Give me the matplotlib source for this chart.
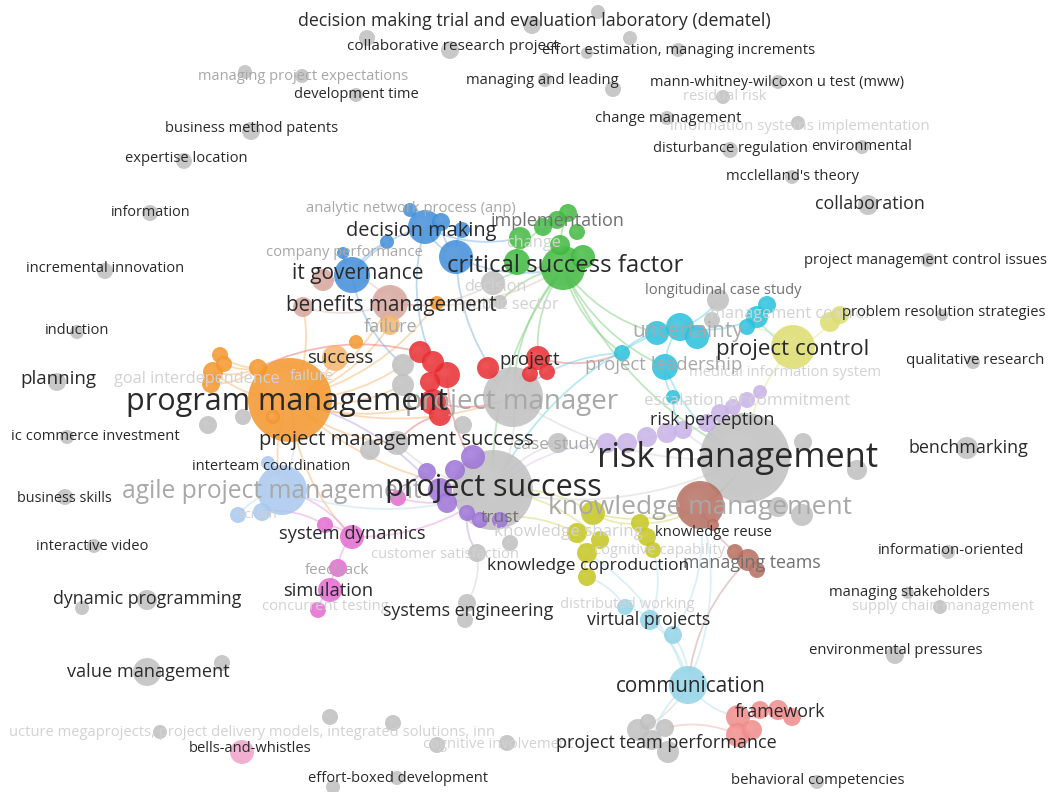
import matplotlib
matplotlib.use("Agg")
import matplotlib.pyplot as plt
from matplotlib.patches import Circle, PathPatch
from matplotlib.path import Path
from matplotlib.colors import to_rgb

# ---------------- data ----------------
cluster_colors = {
    "gray": "#bdbdbd", "orange": "#f39325", "lorange": "#f4b46a", "peach": "#d6a399",
    "blue": "#3a8ad8", "green": "#3cb83c", "red": "#e8262b", "cyan": "#22bfdc",
    "yellow": "#dcdc6a", "lav": "#c6b0e6", "purple": "#9a6ed6", "olive": "#c4c41a",
    "magenta": "#e466d0", "lblue": "#a6c6ee", "brown": "#b4695a", "sky": "#8ed2e6",
    "salmon": "#f08888", "pink": "#f0a0c8",
}

node_key = [
    # gray
    "g_dem1", "g_dem2", "g_eff1", "g_eff2", "g_eff3", "g_col1", "g_col2", "g_mpe1", "g_mpe2", "g_dev",
    "g_mal1", "g_mal2", "g_mww", "g_res", "g_chm", "g_isi", "g_dis", "g_env", "g_mcc", "g_colb",
    "g_bmp", "g_exp", "g_inf", "g_inc", "g_ind", "g_pla", "g_eci", "g_bsk", "g_iv", "g_dp1",
    "g_dp2", "g_vm1", "g_vm2", "g_b1", "g_b2", "g_b3", "g_b4", "g_b5", "g_b6", "g_b7",
    "g_envp", "g_ms1", "g_ms2", "g_io", "g_bc", "g_tp1", "g_tp2", "g_tp3", "g_tp4", "g_tp5",
    "g_pmci", "g_prs", "g_qr", "g_ben", "g_lcs1", "g_lcs2", "g_rm", "g_rm2", "g_rm3", "g_rm4",
    "g_rm5", "g_cs", "g_ps", "g_ps2", "g_ps3", "g_se1", "g_se2", "g_pmgr", "g_r1", "g_r2",
    "g_pms1", "g_pms2", "g_pm3", "g_dec1", "g_dec2", "g_pg1", "g_pg2",
    # orange / light orange / peach
    "o_pm", "o_s1", "o_s2", "o_l1", "o_l2", "o_l3", "o_l4", "o_f1", "o_f2",
    "lo_suc", "lo_fail",
    "pe_bm", "pe_2", "pe_3",
    # blue
    "b_1", "b_dm", "b_3", "b_4", "b_5", "b_6", "b_7", "b_itg",
    # green
    "gr_1", "gr_2", "gr_3", "gr_4", "gr_5", "gr_6", "gr_7", "gr_csf", "gr_9",
    # red
    "r_1", "r_2", "r_3", "r_4", "r_5", "r_6", "r_7", "r_pr", "r_9", "r_10",
    # cyan
    "c_1", "c_unc", "c_3", "c_4", "c_5", "c_6", "c_7", "c_pl", "c_9",
    # yellow
    "y_pc", "y_2", "y_3",
    # lavender
    "l_1", "l_2", "l_3", "l_4", "l_5", "l_6", "l_7", "l_8", "l_9", "l_10",
    # purple
    "p_1", "p_2", "p_3", "p_4", "p_5", "p_6", "p_7", "p_8",
    # olive
    "ol_1", "ol_2", "ol_3", "ol_4", "ol_5", "ol_6", "ol_7", "ol_8",
    # magenta
    "m_1", "m_sd", "m_3", "m_4", "m_sim", "m_6",
    # light blue
    "lb_ag", "lb_2", "lb_3", "lb_4",
    # brown
    "br_km", "br_2", "br_mt", "br_4", "br_5",
    # sky
    "s_com", "s_vp", "s_3", "s_4",
    # salmon
    "sa_1", "sa_2", "sa_3", "sa_4", "sa_5", "sa_6",
    # pink
    "pk_bw",
]

node_x = [
    532, 598, 630, 587, 678, 367, 450, 245, 302, 356,
    545, 613, 778, 723, 667, 798, 730, 862, 792, 868,
    251, 184, 150, 105, 77, 57, 67, 65, 94, 82,
    147, 147, 222, 330, 393, 160, 437, 507, 397, 333,
    895, 908, 940, 948, 817, 638, 665, 668, 652, 648,
    928, 942, 973, 967, 718, 712, 745, 803, 857, 802,
    778, 558, 493, 477, 510, 467, 465, 513, 403, 403,
    397, 370, 463, 493, 500, 208, 243,
    290, 258, 273, 220, 224, 213, 211, 356, 437,
    335, 390,
    390, 323, 303,
    410, 425, 441, 387, 343, 462, 456, 352,
    568, 557, 543, 577, 520, 560, 517, 563, 583,
    420, 433, 447, 430, 433, 440, 488, 538, 530, 547,
    657, 680, 697, 757, 767, 747, 622, 665, 673,
    793, 830, 840,
    607, 627, 647, 667, 683, 707, 720, 733, 747, 760,
    427, 440, 447, 473, 467, 480, 500, 455,
    577, 593, 587, 587, 640, 647, 653, 600,
    325, 352, 398, 338, 330, 318,
    282, 238, 268, 262,
    700, 713, 748, 757, 735,
    688, 650, 673, 625,
    738, 752, 738, 778, 792, 760,
    242,
]

node_y = [
    25, 12, 38, 53, 50, 38, 50, 72, 76, 95,
    80, 89, 82, 97, 118, 123, 150, 147, 177, 205,
    131, 161, 213, 271, 332, 382, 437, 497, 546, 608,
    600, 672, 663, 717, 723, 732, 745, 743, 778, 787,
    655, 593, 607, 552, 782, 730, 728, 752, 740, 722,
    260, 315, 362, 448, 300, 320, 458, 442, 470, 515,
    507, 443, 490, 553, 543, 603, 620, 397, 365, 385,
    443, 450, 425, 283, 302, 425, 417,
    400, 368, 417, 355, 364, 372, 384, 342, 303,
    358, 325,
    303, 280, 307,
    210, 227, 222, 242, 253, 230, 257, 275,
    213, 220, 227, 232, 238, 245, 262, 268, 257,
    352, 362, 375, 382, 402, 415, 368, 358, 374, 372,
    333, 327, 337, 317, 305, 327, 353, 367, 397,
    347, 322, 315,
    443, 443, 437, 433, 430, 423, 413, 407, 400, 392,
    472, 490, 503, 457, 513, 520, 520, 470,
    533, 513, 553, 577, 523, 537, 550, 540,
    525, 537, 498, 568, 590, 610,
    490, 515, 463, 512,
    505, 525, 560, 570, 552,
    685, 620, 635, 607,
    717, 730, 735, 710, 717, 710,
    752,
]

node_r = [
    9, 7, 7, 6, 7, 8, 9, 7, 7, 7,
    7, 8, 7, 7, 7, 7, 8, 7, 7, 10,
    9, 8, 8, 8, 7, 9, 7, 8, 7, 7,
    10, 14, 8, 8, 8, 7, 8, 8, 7, 7,
    9, 6, 7, 7, 7, 11, 9, 11, 10, 8,
    7, 6, 7, 11, 11, 8, 45, 9, 10, 11,
    10, 10, 40, 9, 8, 9, 8, 30, 11, 11,
    12, 10, 9, 12, 7, 9, 8,
    42, 9, 7, 8, 8, 10, 9, 7, 7,
    13, 10,
    18, 11, 10,
    7, 17, 9, 7, 6, 8, 17, 18,
    9, 9, 9, 8, 11, 10, 13, 22, 12,
    11, 11, 13, 10, 13, 11, 11, 12, 8, 8,
    12, 14, 12, 11, 9, 8, 8, 13, 7,
    22, 10, 9,
    10, 10, 10, 10, 9, 9, 9, 8, 8, 7,
    9, 12, 10, 12, 8, 8, 8, 10,
    10, 12, 10, 9, 9, 9, 8, 9,
    8, 12, 8, 9, 12, 8,
    25, 8, 7, 9,
    24, 6, 11, 8, 8,
    19, 10, 9, 8,
    12, 10, 12, 10, 9, 9,
    12,
]

node_cluster = (
    ["gray"] * 77
    + ["orange"] * 9 + ["lorange"] * 2 + ["peach"] * 3
    + ["blue"] * 8 + ["green"] * 9 + ["red"] * 10 + ["cyan"] * 9
    + ["yellow"] * 3 + ["lav"] * 10 + ["purple"] * 8 + ["olive"] * 8
    + ["magenta"] * 6 + ["lblue"] * 4 + ["brown"] * 5 + ["sky"] * 4
    + ["salmon"] * 6 + ["pink"] * 1
)

edge_from = [
    "o_l1", "o_l2", "o_l3", "o_l4", "o_l3", "o_pm", "o_pm", "o_pm", "o_pm", "o_pm",
    "o_pm", "o_pm", "o_pm", "o_pm", "o_pm", "o_pm", "o_pm", "o_pm",
    "pe_bm", "pe_bm", "pe_2", "pe_3", "pe_bm",
    "b_dm", "b_dm", "b_1", "b_4", "b_5", "b_3", "b_6", "b_7", "b_dm", "b_7", "b_dm", "b_itg",
    "gr_csf", "gr_csf", "gr_csf", "gr_csf", "gr_csf", "gr_csf", "gr_csf", "gr_csf", "gr_1", "gr_3",
    "gr_5", "gr_csf",
    "r_5", "r_7", "r_pr", "r_3", "r_6", "r_1", "r_pr",
    "c_unc", "c_1", "c_unc", "c_4", "c_pl", "c_pl", "c_7", "c_unc", "c_9", "c_1",
    "y_pc", "y_2", "y_pc", "y_pc",
    "l_1", "l_2", "l_3", "l_4", "l_5", "l_6", "l_7", "l_8", "l_9", "l_1", "l_5",
    "p_2", "p_4", "p_1", "p_5", "p_3",
    "ol_2", "ol_1", "ol_3", "ol_5", "ol_6", "ol_2", "ol_5", "ol_1", "ol_8", "ol_2",
    "m_sd", "m_sd", "m_4", "m_sim", "m_3", "m_sd", "m_sd", "m_1",
    "lb_ag", "lb_ag", "lb_ag", "lb_ag",
    "br_km", "br_km", "br_km", "br_mt",
    "s_com", "s_com", "s_vp", "s_com", "s_com", "s_com", "s_4", "s_com", "s_vp", "s_3",
    "sa_1", "sa_4", "sa_1", "sa_3",
    "g_se1", "g_ps", "g_ps", "g_pmgr", "g_cs", "g_pms1", "g_tp1",
]
edge_to = [
    "o_s1", "o_s1", "o_s1", "o_s1", "o_pm", "lo_suc", "pe_bm", "r_5", "g_pmgr", "g_ps",
    "lb_ag", "m_sd", "lo_fail", "pe_3", "g_r2", "o_f2", "g_pms1", "r_1",
    "b_itg", "gr_csf", "b_itg", "pe_bm", "g_dec1",
    "b_7", "b_itg", "b_dm", "b_itg", "b_itg", "b_7", "b_7", "gr_csf", "gr_5", "g_pmgr", "r_2", "g_r1",
    "g_dec1", "g_dec2", "r_pr", "g_pmgr", "c_pl", "c_7", "c_1", "g_ps", "gr_csf", "gr_7",
    "gr_7", "g_rm",
    "g_pmgr", "g_pmgr", "g_pmgr", "g_ps", "g_pms1", "o_s1", "c_7",
    "c_pl", "c_7", "c_4", "y_pc", "c_9", "g_rm", "g_pmgr", "g_lcs1", "l_5", "g_ps",
    "y_2", "y_3", "g_rm", "c_6",
    "l_2", "l_3", "l_4", "l_5", "l_6", "l_7", "l_8", "l_9", "l_10", "g_ps", "g_rm",
    "g_ps", "g_ps", "m_3", "g_ps2", "o_pm",
    "g_ps", "ol_3", "ol_4", "ol_6", "ol_7", "br_km", "br_km", "p_6", "g_ps", "ol_5",
    "m_1", "m_4", "m_sim", "m_6", "g_ps", "g_ps", "lb_ag", "lb_4",
    "lb_2", "lb_3", "g_ps", "o_pm",
    "br_mt", "br_2", "g_rm", "s_com",
    "s_vp", "s_3", "s_4", "g_tp4", "sa_1", "br_km", "ol_4", "ol_3", "ol_7", "br_km",
    "sa_4", "sa_5", "sa_3", "g_tp2",
    "g_ps2", "g_pmgr", "g_rm", "g_rm", "g_ps", "g_ps", "s_com",
]

label_text = [
    "managing project expectations", "residual risk", "information systems implementation",
    "ucture megaprojects, project delivery models, integrated solutions, inn",
    "cognitive involvement", "supply chain management", "distributed working",
    "cognitive capability", "knowledge sharing", "customer satisfaction", "concurrent testing",
    "escalation of commitment", "medical information system", "management control", "change",
    "decision", "public sector", "goal interdependence", "failure", "scrum",
    "knowledge management", "agile project management", "project manager", "case study",
    "project leadership", "uncertainty", "analytic network process (anp)", "company performance",
    "failure", "feedback", "managing teams", "trust", "longitudinal case study", "implementation",
    "decision making trial and evaluation laboratory (dematel)", "collaborative research project",
    "effort estimation, managing increments", "development time", "managing and leading",
    "mann-whitney-wilcoxon u test (mww)", "change management", "disturbance regulation",
    "environmental", "mcclelland's theory", "collaboration", "business method patents",
    "expertise location", "information", "incremental innovation", "induction", "planning",
    "ic commerce investment", "business skills", "interactive video", "dynamic programming",
    "value management", "bells-and-whistles", "effort-boxed development",
    "project team performance", "behavioral competencies", "framework", "communication",
    "environmental pressures", "managing stakeholders", "information-oriented",
    "virtual projects", "systems engineering", "knowledge coproduction", "knowledge reuse",
    "simulation", "system dynamics", "project success", "interteam coordination",
    "project management success", "risk management", "benchmarking", "risk perception",
    "qualitative research", "project control", "problem resolution strategies",
    "project management control issues", "critical success factor", "decision making",
    "it governance", "benefits management", "success", "program management", "project",
]
label_x = [
    303, 725, 800, 252, 498, 943, 627, 660, 568, 445, 325, 747, 785, 790, 534,
    495, 510, 197, 312, 258,
    700, 272, 512, 556, 664, 688, 411, 344, 391, 337, 752, 500, 723, 558,
    534, 453, 679, 356, 542, 777, 668, 730, 862, 792, 870, 252, 186, 151, 105, 77, 58,
    95, 64, 92, 147, 148, 250, 398, 666, 818, 780, 691, 896, 909, 951,
    649, 468, 588, 713, 328, 352, 493, 271, 396, 738, 968, 712, 975, 793, 944,
    926, 565, 421, 358, 391, 340, 287, 530,
]
label_y = [
    77, 96, 126, 732, 745, 606, 605, 550, 532, 555, 606, 401, 373, 314, 243,
    287, 305, 379, 377, 514,
    508, 492, 402, 445, 365, 332, 209, 252, 327, 571, 563, 518, 290, 221,
    21, 47, 50, 95, 80, 82, 118, 149, 147, 176, 204, 128, 158, 212, 268, 331, 379,
    437, 498, 547, 599, 672, 749, 778, 743, 781, 712, 686, 651, 592, 551,
    620, 611, 566, 533, 591, 534, 488, 466, 440, 458, 448, 420, 361, 349, 313,
    261, 266, 231, 274, 306, 358, 402, 360,
]
label_pt = [
    10.5, 10.6, 10.8, 10.6, 10.6, 10.6, 10.6, 10.6, 12.2, 10.6, 10.6, 12.2, 10.6, 11.7, 11.7,
    11.7, 11.7, 11.7, 10.6, 9.5,
    19, 17.7, 20, 12.5, 13.4, 15, 10.6, 10.6, 13, 10.9, 12.8, 12.6, 10.5, 13,
    12.75, 11, 10.6, 10.5, 10.6, 10.5, 10.7, 10.5, 10.6, 10.6, 12.9, 10.5, 10.6, 10.4, 10.5, 10.5, 13.5,
    10.6, 10.4, 10.5, 12.8, 13.1, 10.5, 10.5, 13, 10.7, 12.8, 14.9, 10.7, 10.6, 10.7,
    12.8, 12.9, 12.6, 10.6, 13.2, 13.2, 22, 10.5, 14.6, 24.8, 12.9, 12.9, 10.8, 16.1, 10.6,
    10.6, 17.2, 14.4, 15, 14.9, 13.4, 22, 13.3,
]
# 0 = dark, 1 = medium, 2 = light, 3 = very faint
label_tone = [
    2, 3, 3, 3, 3, 3, 3, 3, 3, 3, 3, 3, 3, 3, 3,
    3, 3, 3, 3, 3,
    2, 2, 2, 2, 2, 2, 2, 2, 2, 2, 1, 1, 1, 1,
    0, 0, 0, 0, 0, 0, 0, 0, 0, 0, 0, 0, 0, 0, 0, 0, 0,
    0, 0, 0, 0, 0, 0, 0, 0, 0, 0, 0, 0, 0, 0,
    0, 0, 0, 0, 0, 0, 0, 0, 0, 0, 0, 0, 0, 0, 0,
    0, 0, 0, 0, 0, 0, 0, 0,
]

# ---------------- drawing ----------------
W, H = 1049, 792
fig = plt.figure(figsize=(W / 100, H / 100), dpi=100)
ax = fig.add_axes([0, 0, 1, 1])
ax.set_xlim(0, W)
ax.set_ylim(H, 0)
ax.set_aspect("equal")
ax.axis("off")
fig.patch.set_facecolor("white")

idx = {k: i for i, k in enumerate(node_key)}


def mix(c, t, other=(1, 1, 1)):
    c = to_rgb(c)
    return tuple(c[i] * (1 - t) + other[i] * t for i in range(3))


# edges as curved lines
for a, b in zip(edge_from, edge_to):
    i, j = idx[a], idx[b]
    x1, y1, x2, y2 = node_x[i], node_y[i], node_x[j], node_y[j]
    mx, my = (x1 + x2) / 2, (y1 + y2) / 2
    dx, dy = x2 - x1, y2 - y1
    cx, cy = mx - dy * 0.18, my + dx * 0.18
    path = Path([(x1, y1), (cx, cy), (x2, y2)], [Path.MOVETO, Path.CURVE3, Path.CURVE3])
    col = mix(cluster_colors[node_cluster[i]], 0.35)
    ax.add_patch(PathPatch(path, facecolor="none", edgecolor=col, lw=1.3, alpha=0.5, zorder=1))

# nodes as shaded spheres (largest first)
order = sorted(range(len(node_x)), key=lambda k: -node_r[k])
for k in order:
    x, y, r = node_x[k], node_y[k], node_r[k]
    base = cluster_colors[node_cluster[k]]
    ax.add_patch(Circle((x, y), r, facecolor=mix(base, 0.0), edgecolor="none",
                        alpha=0.82, zorder=2))
    steps = 5
    for s in range(1, steps + 1):
        t = s / steps
        ax.add_patch(Circle((x - 0.22 * r * t, y - 0.22 * r * t), r * (1 - 0.7 * t),
                            facecolor=mix(base, 0.12 + 0.12 * t), edgecolor="none",
                            alpha=0.35, zorder=2))

tone_colors = ["#2a2a2a", "#707070", "#a8a8a8", "#d2d2d2"]
lorder = sorted(range(len(label_text)), key=lambda k: -label_tone[k])
for k in lorder:
    ax.text(label_x[k], label_y[k], label_text[k], fontsize=label_pt[k],
            color=tone_colors[label_tone[k]], ha="center", va="center",
            family=["Open Sans", "DejaVu Sans"], zorder=3 + (3 - label_tone[k]))

fig.savefig("out.png", dpi=100, facecolor="white")
